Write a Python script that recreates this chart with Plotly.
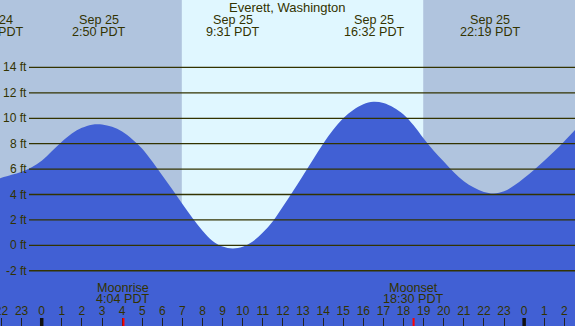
import plotly.graph_objects as go

W, H = 575, 326

# ---- data ----
# hours relative to midnight starting Sep 25 (negative = Sep 24 evening)
tide_hours = [-2.07, -1.5, -1.0, -0.5, 0.0, 0.5, 1.0, 1.5, 2.0, 2.5, 3.0, 3.5, 4.0, 4.5,
              5.0, 5.5, 6.0, 6.5, 7.0, 7.5, 8.0, 8.5, 9.0, 9.5, 10.0, 10.5, 11.0, 11.5, 12.0,
              12.5, 13.0, 13.5, 14.0, 14.5, 15.0, 15.5, 16.0, 16.5, 17.0, 17.5, 18.0, 18.5,
              19.0, 19.5, 20.0, 20.5, 21.0, 21.5, 22.0, 22.5, 23.0, 23.5, 24.0, 24.5, 25.0,
              25.5, 26.0, 26.53]
tide_ft = [5.28, 5.55, 5.8, 6.15, 6.65, 7.4, 8.15, 8.8, 9.25, 9.5, 9.52, 9.33, 8.95, 8.35,
           7.6, 6.6, 5.5, 4.4, 3.25, 2.15, 1.15, 0.35, -0.1, -0.25, -0.12, 0.3, 1.0, 1.9, 3.05,
           4.25, 5.5, 6.75, 8.0, 9.1, 10.0, 10.65, 11.1, 11.3, 11.2, 10.85, 10.3, 9.45,
           8.4, 7.45, 6.6, 5.75, 5.05, 4.55, 4.2, 4.08, 4.25, 4.7, 5.3, 5.95, 6.65,
           7.4, 8.2, 9.08]

extreme_hours = [-2.42, 2.833, 9.517, 16.533, 22.317]
extreme_dates = ["Sep 24", "Sep 25", "Sep 25", "Sep 25", "Sep 25"]
extreme_times = ["21:35 PDT", "2:50 PDT", "9:31 PDT", "16:32 PDT", "22:19 PDT"]

grid_levels = [-2, 0, 2, 4, 6, 8, 10, 12, 14]
grid_labels = [f"{v} ft" for v in grid_levels]

hour_ticks = list(range(-2, 27))
hour_labels = [str(h % 24) for h in hour_ticks]
midnights = [0, 24]

sunrise, sunset = 6.97, 18.98
moon_hours = [4.067, 18.5]
moon_names = ["Moonrise", "Moonset"]
moon_times = ["4:04 PDT", "18:30 PDT"]

title = "Everett, Washington"

# ---- styles ----
NIGHT = "#B0C4DE"
DAY = "#E0F7FF"
FILL = "rgb(65,96,212)"
TXT = "#333300"
FONT = "Liberation Sans, Arial, sans-serif"
XR = [-2.075, 26.53]
YR = [-6.35, 19.31]
PX_PER_HOUR = W / (XR[1] - XR[0])

def py(px):
    return 1 - px / H

def xpos(h):
    # keep annotations whose anchor lies left of the visible range (plotly hides them otherwise)
    if h < XR[0]:
        return XR[0], (h - XR[0]) * PX_PER_HOUR
    return h, 0

fig = go.Figure()
fig.add_trace(go.Scatter(x=[XR[0] - 1, XR[1] + 1], y=[YR[0] - 1, YR[0] - 1], mode="lines",
                         line=dict(width=0), hoverinfo="skip"))
fig.add_trace(go.Scatter(x=tide_hours, y=tide_ft, mode="lines",
                         line=dict(width=0, shape="spline", smoothing=1.0),
                         fill="tonexty", fillcolor=FILL, hoverinfo="skip"))

shapes = []
shapes.append(dict(type="rect", xref="x", yref="paper", x0=sunrise, x1=sunset, y0=0, y1=1,
                   fillcolor=DAY, line=dict(width=0), layer="below"))
for v in grid_levels:
    shapes.append(dict(type="line", xref="paper", yref="y", x0=29 / W, x1=1, y0=v, y1=v,
                       line=dict(color=TXT, width=1.3), layer="above"))
for m in midnights:
    shapes.append(dict(type="line", xref="x", yref="paper", x0=m, x1=m, y0=0, y1=8 / H,
                       line=dict(color="#111", width=3.5), layer="above"))
for m in moon_hours:
    shapes.append(dict(type="line", xref="x", yref="paper", x0=m, x1=m, y0=0, y1=8 / H,
                       line=dict(color="red", width=2), layer="above"))

ann = []
ann.append(dict(text=title, x=0.5, y=py(7.5), xref="paper", yref="paper", showarrow=False,
                borderpad=0,
                font=dict(size=13, color=TXT, family=FONT), xanchor="center", yanchor="middle"))
for h, d, t in zip(extreme_hours, extreme_dates, extreme_times):
    xx, sh = xpos(h)
    ann.append(dict(text=d, x=xx, xshift=sh, y=py(20), xref="x", yref="paper", showarrow=False,
                    borderpad=0,
                    font=dict(size=12.6, color=TXT, family=FONT), xanchor="center", yanchor="middle"))
    ann.append(dict(text=t, x=xx, xshift=sh, y=py(31.5), xref="x", yref="paper", showarrow=False,
                    borderpad=0,
                    font=dict(size=12.6, color=TXT, family=FONT), xanchor="center", yanchor="middle"))
for h, n, t in zip(moon_hours, moon_names, moon_times):
    ann.append(dict(text=n, x=h, y=py(287.5), xref="x", yref="paper", showarrow=False,
                    borderpad=0,
                    font=dict(size=12.6, color=TXT, family=FONT), xanchor="center", yanchor="middle"))
    ann.append(dict(text=t, x=h, y=py(299), xref="x", yref="paper", showarrow=False,
                    borderpad=0,
                    font=dict(size=12.6, color=TXT, family=FONT), xanchor="center", yanchor="middle"))
for v, lab in zip(grid_levels, grid_labels):
    ann.append(dict(text=lab, x=27.5 / W, y=v, xref="paper", yref="y", showarrow=False,
                    borderpad=0,
                    font=dict(size=12, color=TXT, family=FONT), xanchor="right", yanchor="middle"))

fig.update_layout(
    width=W, height=H, margin=dict(l=0, r=0, t=0, b=0, pad=0),
    paper_bgcolor=NIGHT, plot_bgcolor=NIGHT, showlegend=False,
    shapes=shapes, annotations=ann,
    xaxis=dict(range=XR, tickvals=hour_ticks, ticktext=hour_labels, ticks="inside", ticklen=8,
               tickcolor="#222", tickwidth=1, ticklabelposition="inside",
               ticklabeloverflow="allow", automargin=False,
               tickfont=dict(size=12, color=TXT, family=FONT),
               showgrid=False, zeroline=False, showline=False, fixedrange=True),
    yaxis=dict(range=YR, showticklabels=False, showgrid=False, zeroline=False, ticks="",
               automargin=False, fixedrange=True),
)
fig.write_html("out.html", config={"displayModeBar": False},
               post_script="document.body.style.margin='0';document.body.style.overflow='hidden';")
